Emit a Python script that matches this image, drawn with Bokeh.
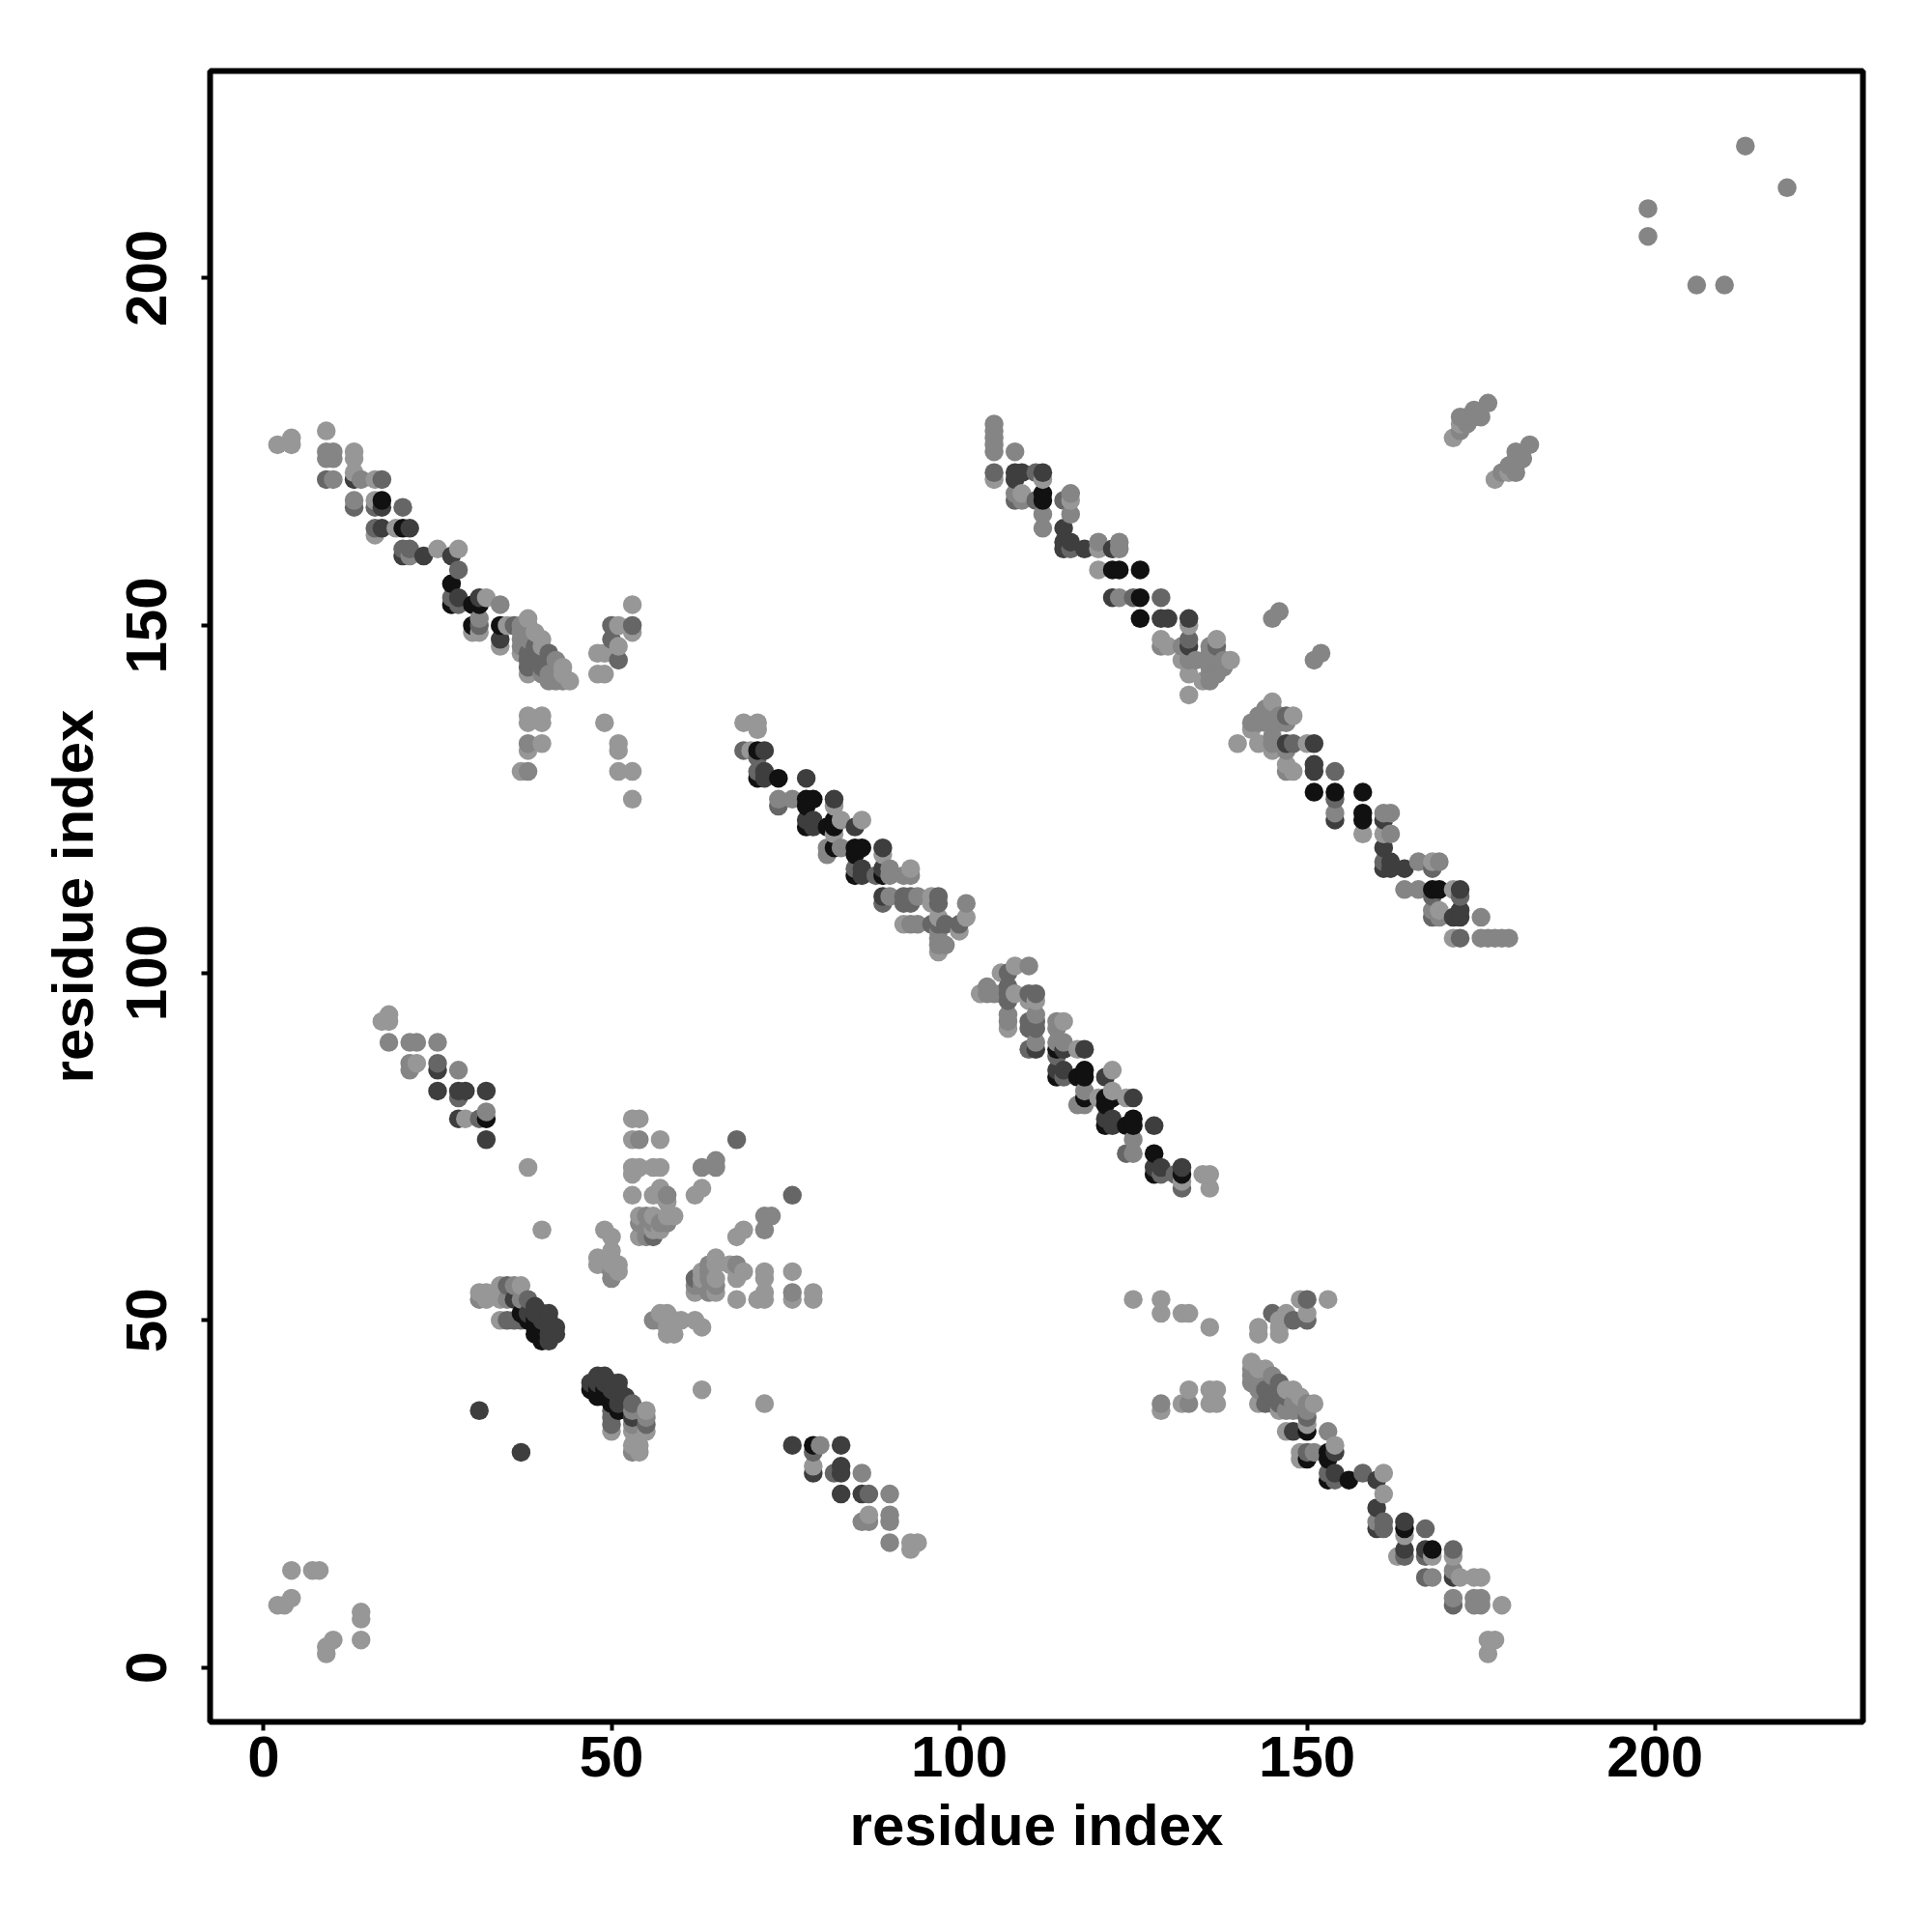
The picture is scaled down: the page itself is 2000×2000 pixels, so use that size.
from bokeh.plotting import figure
from bokeh.models import FixedTicker, Range1d
from bokeh.embed import file_html
from bokeh.resources import INLINE

# Residue contacts (i > j); the contact map is symmetric, both (i, j) and (j, i) are drawn.
LIGHT = [(14,8),(14,7),(14,4),(10,4),(9,3),(9,2),(143,48),(146,48),(143,49),(146,49),(146,50),(147,51),(149,53),(153,53),(150,51),
 (142,44),(143,43),(144,43),(147,40),(148,40),(149,39),(151,38),(143,38),(146,37),(147,34),(150,35),(154,32),(149,31),(149,30),(161,28),(161,25),(164,19),(163,16),(168,16),(171,16),(172,13),(174,13),(175,13),(178,9),(176,4),(177,4),(176,2),
 (69,136),(71,136),(71,135),(70,132),(82,124),(82,120),(83,122),(86,122),(89,117),(93,115),(96,111),(92,107),(101,108),(100,106),(97,103),(108,101),(106,100),(103,97),(108,97),(111,96),(110,96),(107,92),(115,93),(114,90),(110,89),(117,89),(122,86),(117,81),(120,82),(122,83),(124,82),(125,76),(132,70),(135,71),(136,71),(136,69),
 (140,133),(143,133),(145,132),(142,135),(148,137),(150,133),(147,130),(148,129),(158,120),(161,120),(168,116),(171,112),(172,111),(169,109),(171,105),
 (177,171),(179,172),(63,49),(62,50),(60,50),(59,50),(58,50),(58,51),(57,51),(59,48),(58,48),(58,49),
 (72,56),(72,57),(76,57),(71,53),(68,53),(68,56),(69,57),(68,57),(67,58),(65,59),(65,58),(64,58),(63,57),(63,56),(65,56),(72,63),(69,63),(68,62),(57,50),
 (79,53),(79,54),(76,53),(72,53),(72,38),(63,40),(62,54),(65,54),(72,54),(125,53),(129,51),(136,49),(132,51),(133,51),(129,37),(132,38),(133,40),(136,40),(137,40),(136,38),(137,38),(129,53),
 (55,37),(55,34),(50,34),(53,34),(54,31),(54,32),(53,32),(93,17),(94,18),(93,18),(87,21),(87,22),(79,29),(83,29),(145,139)]
GREY = [(206,199),(210,199),(219,213),(152,146),(151,145),(142,43),(142,42),(142,41),(145,42),(150,38),(143,41),(143,40),(147,37),(148,37),(148,38),(149,37),(150,37),(153,34),(151,31),(160,21),(168,13),(171,14),(171,10),(174,10),(174,9),(175,10),(175,9),
 (69,132),(72,132),(72,129),(76,125),(74,125),(81,118),(81,117),(83,118),(90,115),(90,114),(94,111),(97,107),(98,104),(97,104),(101,110),(96,107),(94,107),(93,107),
 (110,101),(104,98),(104,97),(106,97),(107,94),(107,93),(110,97),(111,97),(110,93),(110,92),(111,92),(111,94),(114,93),(114,92),(111,90),(115,90),(118,83),(124,74),(125,74),(105,97),
 (145,134),(145,133),(145,138),(144,138),(143,137),(142,136),(143,136),(144,137),(144,136),(145,137),(146,137),(146,136),(147,136),(147,129),(154,123),(161,123),(162,123),(162,120),(166,116),(169,116),(164,112),(166,112),(168,109),(169,108),(175,108),(175,105),(176,105),(177,105),(178,105),(179,105),(147,132),
 (178,172),(180,172),(180,173),(180,174),(181,174),(180,175),(182,176),(179,173),
 (56,50),(57,50),(64,57),(64,58),(65,55),(63,55),(62,55),(68,58),(72,65),(73,65),(65,72),(63,72),(76,54),(64,56),(64,54),
 (129,38),(133,38),(53,37),(53,35),(55,36),(53,31),(90,18),(90,22),(86,28),(90,25),(80,32),(90,21),(87,21),(86,21)]
MID = [(145,51),(148,50),(150,50),(150,53),(144,40),(146,41),(144,38),(145,39),(145,38),(146,38),(147,39),(150,36),(150,31),(153,28),(154,27),(158,28),(161,21),(161,20),(167,20),(164,16),(167,16),(171,17),(167,13),(171,9),
 (71,131),(74,124),(86,114),(92,110),(92,111),(89,110),(88,114),(93,110),(93,111),(97,110),(97,111),(98,107),(107,100),(107,97),(111,93),(111,89),(115,85),(114,86),(115,89),(121,79),(122,78),(128,72),(129,71),(132,69),(131,71),
 (147,137),(148,133),(154,129),(154,125),(172,111),(172,105),(168,111),(161,116),(168,115),(168,108),(62,56),
 (68,76),(53,38),(55,35),(50,37),(50,36),(50,35),(86,25),(87,25),(82,28),(79,31),(107,96),(148,34)]
DARK = [(148,34),(154,31),(154,28),(160,27),(160,20),(164,21),(164,17),(167,17),(171,13),(160,23),
 (78,128),(82,125),(78,122),(79,122),(79,121),(85,121),(89,118),(86,115),(89,115),(89,111),(86,114),(72,128),(115,86),(118,89),(121,85),(125,82),(122,79),(128,78),(129,72),(132,72),(132,71),
 (147,133),(151,133),(151,130),(151,129),(161,118),(161,122),(161,115),(162,116),(164,115),(172,112),(171,108),(172,109),(172,108),(154,122),(162,115),
 (37,31),(76,32),(83,28),(83,25),(86,25),(83,32),(49,42),(48,42),(47,41),(51,41),(51,40),(51,39),(50,40),(51,38),(53,36),(79,28),(83,29),(49,41),(50,41),(52,39),(48,41)]
BLACK = [(150,34),(153,31),(153,30),(153,27),(156,27),(164,20),(168,17),(150,30),
 (71,132),(71,128),(74,128),(78,125),(79,125),(78,121),(81,121),(82,121),(82,118),(85,118),(86,118),(85,117),(85,114),(89,114),
 (114,89),(114,85),(117,85),(118,86),(118,85),(118,82),(121,82),(121,81),(122,82),(121,78),(124,78),(125,79),(125,78),(128,74),(128,71),
 (151,126),(154,126),(158,126),(158,123),(158,122),(168,112),(169,112),
 (47,40),(48,40),(48,39),(49,39),(50,38),(49,40),(50,39),(79,32),(51,37)]

TICKS = [0, 50, 100, 150, 200]
SHADES = [("#979797", LIGHT), ("#858585", GREY), ("#666666", MID), ("#3e3e3e", DARK), ("#111111", BLACK)]

cell = {}
for color, pairs in SHADES:
    for a, b in pairs:
        cell[(a, b)] = color
        cell[(b, a)] = color
keys = sorted(cell)
xs = [k[0] for k in keys]
ys = [k[1] for k in keys]
colors = [cell[k] for k in keys]

p = figure(width=1993, height=1952, output_backend="svg", toolbar_location=None,
           x_range=Range1d(-7.7, 229.9), y_range=Range1d(-7.8, 229.8),
           min_border_left=217, min_border_right=65, min_border_top=73, min_border_bottom=170,
           background_fill_color="white", border_fill_color="white")
p.grid.visible = False
p.outline_line_color = "black"
p.outline_line_width = 6
p.scatter(xs, ys, size=19.5, marker="circle", fill_color=colors, line_color=None)

for ax, label in ((p.xaxis[0], "residue index"), (p.yaxis[0], "residue index")):
    ax.ticker = FixedTicker(ticks=TICKS)
    ax.axis_label = label
    ax.axis_line_color = None
    ax.minor_tick_line_color = None
    ax.major_tick_line_color = "black"
    ax.major_tick_line_width = 4
    ax.major_tick_out = 9
    ax.major_tick_in = 0
    ax.major_label_text_font = "Liberation Sans"
    ax.major_label_text_font_style = "bold"
    ax.major_label_text_font_size = "60px"
    ax.major_label_text_color = "black"
    ax.axis_label_text_font = "Liberation Sans"
    ax.axis_label_text_font_style = "bold"
    ax.axis_label_text_font_size = "60px"
    ax.axis_label_text_color = "black"
p.xaxis[0].major_label_standoff = 6
p.xaxis[0].axis_label_standoff = 14
p.yaxis[0].major_label_orientation = "vertical"
p.yaxis[0].major_label_standoff = 36
p.yaxis[0].axis_label_standoff = 20

open("out.html", "w").write(file_html(p, INLINE))
